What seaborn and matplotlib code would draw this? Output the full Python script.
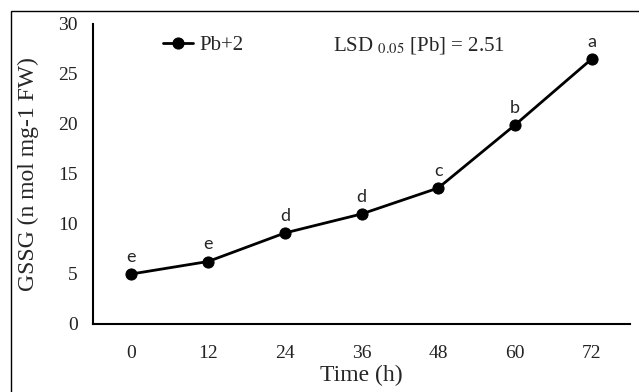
import matplotlib
matplotlib.use("Agg")
import matplotlib.pyplot as plt
import seaborn as sns
import pandas as pd
from matplotlib.patches import Rectangle

# GSSG content under Pb+2 over time
time_h = [0, 12, 24, 36, 48, 60, 72]
gssg = [5.0, 6.25, 9.1, 11.0, 13.6, 19.9, 26.5]
letters = ["e", "e", "d", "d", "c", "b", "a"]

df = pd.DataFrame({"Time (h)": time_h, "GSSG": gssg, "treatment": "Pb+2"})

sns.set_style("white")
plt.rcParams["font.family"] = ["Liberation Serif", "DejaVu Serif"]
plt.rcParams["mathtext.fontset"] = "stix"

fig = plt.figure(figsize=(6.39, 3.92), dpi=100)
ax = fig.add_axes([93 / 639, 68 / 392, 537 / 639, 300 / 392])

sns.lineplot(data=df, x="Time (h)", y="GSSG", hue="treatment", palette=["black"],
             marker="o", markersize=8, markeredgecolor="black", linewidth=2, ax=ax)

# significance letters
for x, y, s in zip(time_h, gssg, letters):
    ax.annotate(s, (x, y), xytext=(0, 6.5), textcoords="offset points",
                ha="center", va="bottom", fontsize=13, family=["Lato", "DejaVu Sans"])

ax.set_xlim(-6, 78)
ax.set_ylim(0, 30)
ax.set_xticks(time_h)
ax.set_yticks(range(0, 31, 5))
ax.tick_params(axis="both", length=0, labelsize=14, colors="#222222")
ax.tick_params(axis="x", pad=15)
ax.tick_params(axis="y", pad=11)
for side in ["top", "right"]:
    ax.spines[side].set_visible(False)
for side in ["left", "bottom"]:
    ax.spines[side].set_color("black")
    ax.spines[side].set_linewidth(1.5)

ax.set_xlabel("Time (h)", fontsize=17, labelpad=2)
ax.set_ylabel("GSSG (n mol mg-1 FW)", fontsize=17, labelpad=14)

ax.legend(loc="center left", bbox_to_anchor=(0.13, 0.93), frameon=False, fontsize=15,
          handlelength=1.45, handletextpad=0.3, borderpad=0, borderaxespad=0)
ax.text(0.447, 0.93, r"LSD $_{0.05}$ [Pb] = 2.51", transform=ax.transAxes,
        fontsize=15, va="center", ha="left")

# outer chart border (cut off at right and bottom as in source)
fig.patches.append(Rectangle((11 / 639, -0.1), 2, 1.1 - 11 / 392, transform=fig.transFigure,
                             fill=False, edgecolor="black", linewidth=1.0))

fig.savefig("out.png", dpi=100)
